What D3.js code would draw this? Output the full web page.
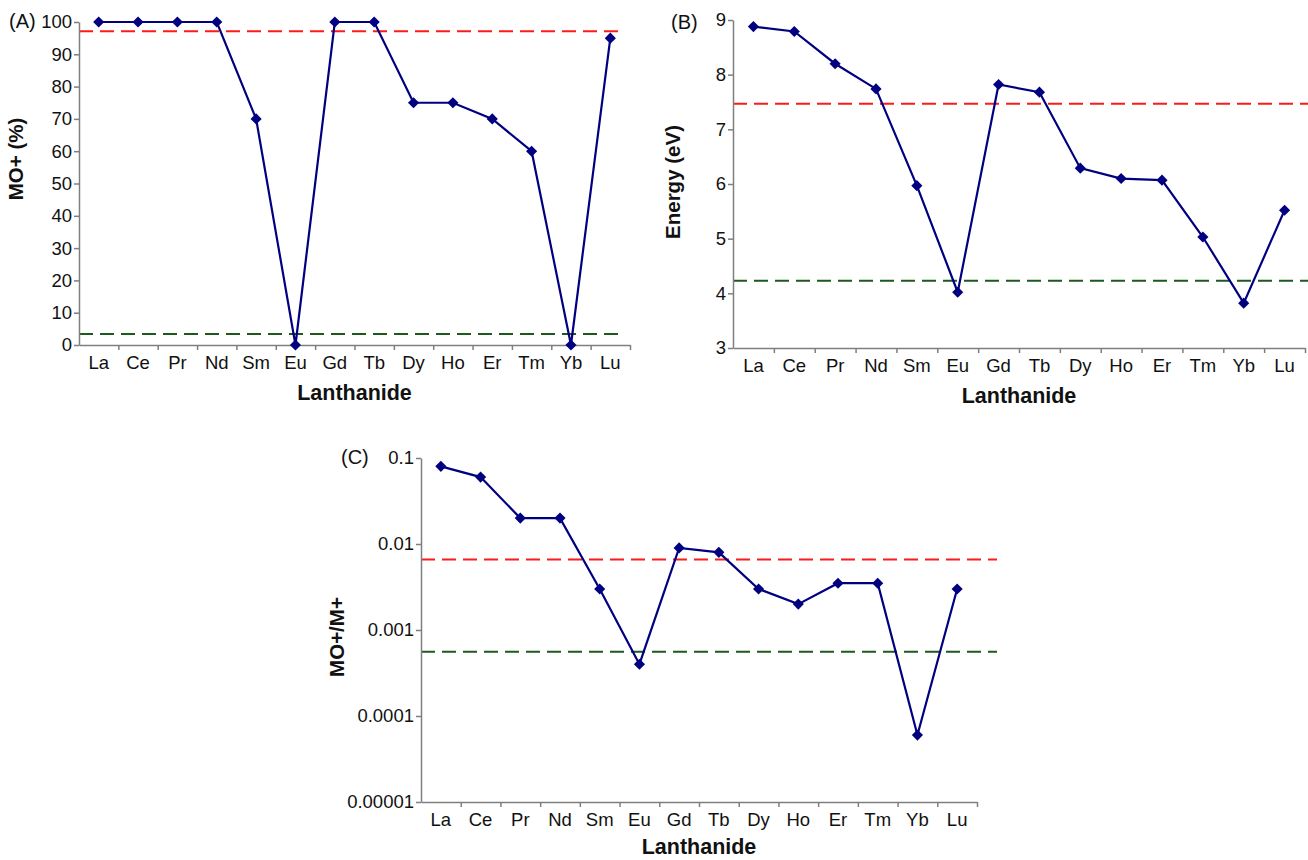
<!DOCTYPE html>
<html>
<head>
<meta charset="utf-8">
<script src="https://cdn.jsdelivr.net/npm/d3@7"></script>
<style>
  body { margin: 0; background: #fff; }
  svg text { font-family: "Liberation Sans", Arial, sans-serif; fill: #111; }
</style>
</head>
<body>
<svg id="chart" width="1308" height="860"></svg>
<script>
// Lanthanide categories shared by all three panels
const elements = ["La", "Ce", "Pr", "Nd", "Sm", "Eu", "Gd", "Tb", "Dy", "Ho", "Er", "Tm", "Yb", "Lu"];

// (A) MO+ (%)
const moPercent = [100, 100, 100, 100, 70, 0, 100, 100, 75, 75, 70, 60, 0, 95];
const moPercentTicks = [0, 10, 20, 30, 40, 50, 60, 70, 80, 90, 100];
const moPercentRef = [97.1, 3.4];   // red, green dashed levels

// (B) Energy (eV)
const energy = [8.88, 8.79, 8.20, 7.74, 5.97, 4.02, 7.82, 7.68, 6.29, 6.10, 6.07, 5.03, 3.82, 5.52];
const energyTicks = [3, 4, 5, 6, 7, 8, 9];
const energyRef = [7.47, 4.23];

// (C) MO+/M+ ratio (log)
const ratio = [0.08, 0.06, 0.02, 0.02, 0.003, 0.0004, 0.009, 0.008, 0.003, 0.002, 0.0035, 0.0035, 0.00006, 0.003];
const ratioTicks = [0.00001, 0.0001, 0.001, 0.01, 0.1];
const ratioTickLabels = ["0.00001", "0.0001", "0.001", "0.01", "0.1"];
const ratioRef = [0.0066, 0.00056];

const svg = d3.select("#chart");
const axisGrey = "#7f7f7f";
const lineBlue = "#000080";
const refColors = ["#ff1a1a", "#1e5a1e"];
const tickFont = "18.5px";

function drawPanel(p) {
  const g = svg.append("g").attr("transform", `translate(${p.left},${p.top})`);

  const x = d3.scaleBand().domain(elements).range([0, p.width]);
  const xEdge = d3.scaleLinear().domain([0, elements.length]).range([0, p.width]);
  const y = p.y.range([p.height, 0]);

  // dashed reference levels (drawn under the series)
  g.selectAll(".ref")
    .data(p.refs)
    .enter()
    .append("line")
    .attr("x1", 0)
    .attr("x2", p.refEnd)
    .attr("y1", d => y(d))
    .attr("y2", d => y(d))
    .attr("stroke", (d, i) => refColors[i])
    .attr("stroke-width", 2)
    .attr("stroke-dasharray", "14,7");

  // y axis
  const yAxis = g.append("g")
    .call(d3.axisLeft(y).tickValues(p.ticks).tickFormat((d, i) => p.tickLabels ? p.tickLabels[i] : d)
      .tickSize(5).tickSizeOuter(0).tickPadding(2));
  yAxis.selectAll("path, line").attr("stroke", axisGrey).attr("stroke-width", 1.5);
  yAxis.selectAll("text").style("font-size", tickFont).attr("fill", "#111");

  // x axis: boundary ticks + centred labels
  const xTicks = g.append("g")
    .attr("transform", `translate(0,${p.height})`)
    .call(d3.axisBottom(xEdge).tickValues(d3.range(1, elements.length + 1)).tickFormat("").tickSize(5).tickSizeOuter(0));
  xTicks.selectAll("path, line").attr("stroke", axisGrey).attr("stroke-width", 1.5);

  const xLabels = g.append("g")
    .attr("transform", `translate(0,${p.height})`)
    .call(d3.axisBottom(x).tickSize(0).tickPadding(11));
  xLabels.select(".domain").remove();
  xLabels.selectAll("text").style("font-size", tickFont).attr("fill", "#111");

  // series line and diamond markers
  const line = d3.line()
    .x((d, i) => x(elements[i]) + x.bandwidth() / 2)
    .y(d => y(d));

  g.append("path")
    .datum(p.values)
    .attr("fill", "none")
    .attr("stroke", lineBlue)
    .attr("stroke-width", 2.2)
    .attr("d", line);

  g.selectAll(".pt")
    .data(p.values)
    .enter()
    .append("path")
    .attr("d", d3.symbol().type(d3.symbolSquare).size(62))
    .attr("transform", (d, i) => `translate(${x(elements[i]) + x.bandwidth() / 2},${y(d)}) rotate(45)`)
    .attr("fill", lineBlue);

  // titles
  g.append("text")
    .attr("x", p.width / 2)
    .attr("y", p.height + p.xTitleOffset)
    .attr("text-anchor", "middle")
    .style("font-size", "21.5px")
    .style("font-weight", "bold")
    .text("Lanthanide");

  g.append("text")
    .attr("transform", `translate(${p.yTitleX},${p.yTitleY}) rotate(-90)`)
    .attr("text-anchor", "middle")
    .style("font-size", "20.5px")
    .style("font-weight", "bold")
    .text(p.yTitle);

  g.append("text")
    .attr("x", p.tagX)
    .attr("y", p.tagY)
    .attr("text-anchor", "start")
    .style("font-size", "20px")
    .text(p.tag);
}

drawPanel({
  left: 79, top: 22, width: 551, height: 323,
  y: d3.scaleLinear().domain([0, 100]),
  values: moPercent, ticks: moPercentTicks, refs: moPercentRef,
  refEnd: 541, xTitleOffset: 55, yTitle: "MO+ (%)", yTitleX: -56, yTitleY: 137,
  tag: "(A)", tagX: -70, tagY: 6
});

drawPanel({
  left: 733, top: 20, width: 572, height: 328,
  y: d3.scaleLinear().domain([3, 9]),
  values: energy, ticks: energyTicks, refs: energyRef,
  refEnd: 580, xTitleOffset: 55, yTitle: "Energy (eV)", yTitleX: -53, yTitleY: 162,
  tag: "(B)", tagX: -62, tagY: 9
});

drawPanel({
  left: 421, top: 458, width: 556, height: 344,
  y: d3.scaleLog().domain([0.00001, 0.1]),
  values: ratio, ticks: ratioTicks, tickLabels: ratioTickLabels, refs: ratioRef,
  refEnd: 576, xTitleOffset: 52, yTitle: "MO+/M+", yTitleX: -77, yTitleY: 179,
  tag: "(C)", tagX: -80, tagY: 6
});
</script>
</body>
</html>
